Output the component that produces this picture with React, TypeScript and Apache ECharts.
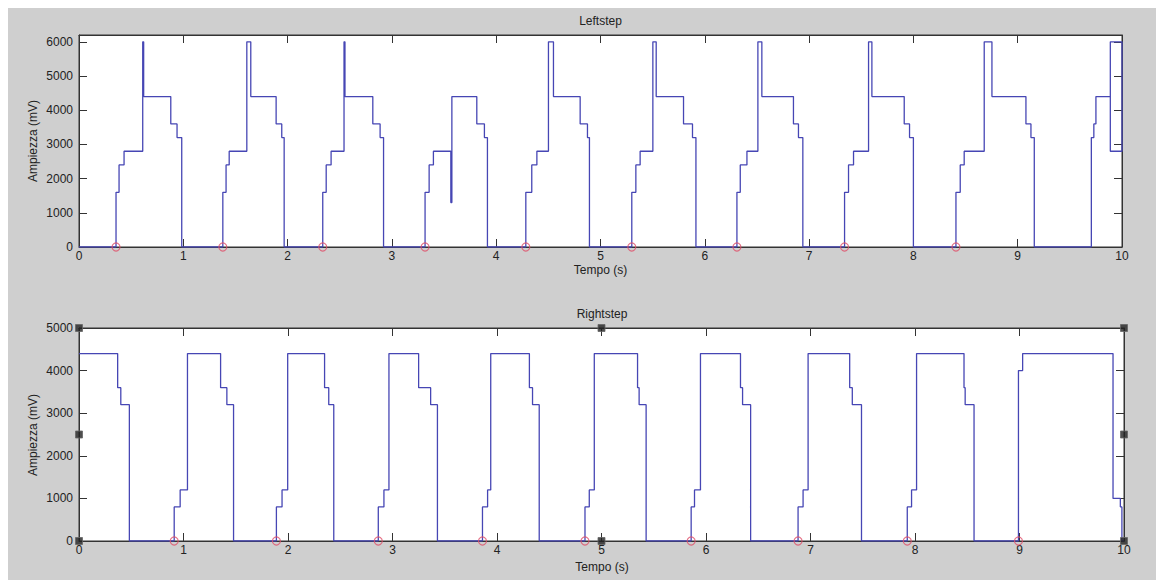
import React, { useEffect, useRef } from "react";
import * as echarts from "echarts";

// ---- Leftstep: transition times (s) and the level (mV) reached at each ----
const LEFT_START = 0;
const LEFT_TIMES = [
  0.355, 0.384, 0.432, 0.611, 0.62, 0.88, 0.94, 0.985,
  1.379, 1.41, 1.44, 1.609, 1.647, 1.89, 1.944, 1.967,
  2.337, 2.37, 2.417, 2.541, 2.55, 2.817, 2.887, 2.92,
  3.318, 3.357, 3.398, 3.565, 3.575, 3.814, 3.887, 3.916,
  4.284, 4.341, 4.39, 4.501, 4.549, 4.805, 4.875, 4.894,
  5.3, 5.339, 5.38, 5.502, 5.534, 5.796, 5.882, 5.915,
  6.308, 6.34, 6.404, 6.509, 6.547, 6.85, 6.898, 6.94,
  7.34, 7.378, 7.426, 7.57, 7.602, 7.912, 7.963, 8.0,
  8.408, 8.449, 8.487, 8.679, 8.753, 9.079, 9.127, 9.159,
  9.706, 9.73, 9.75, 9.888, 10, 9.888, 9.888,
];
const LEFT_LEVELS = [
  1600, 2400, 2800, 6000, 4400, 3600, 3200, 0,
  1600, 2400, 2800, 6000, 4400, 3600, 3200, 0,
  1600, 2400, 2800, 6000, 4400, 3600, 3200, 0,
  1600, 2400, 2800, 1300, 4400, 3600, 3200, 0,
  1600, 2400, 2800, 6000, 4400, 3600, 3200, 0,
  1600, 2400, 2800, 6000, 4400, 3600, 3200, 0,
  1600, 2400, 2800, 6000, 4400, 3600, 3200, 0,
  1600, 2400, 2800, 6000, 4400, 3600, 3200, 0,
  1600, 2400, 2800, 6000, 4400, 3600, 3200, 0,
  3200, 3600, 4400, 6000, 2800, 2800, 4400,
];
const LEFT_ONSETS = [0.355, 1.379, 2.337, 3.318, 4.284, 5.3, 6.308, 7.34, 8.408];

// ---- Rightstep ----
const RIGHT_START = 4400;
const RIGHT_TIMES = [
  0.37, 0.4, 0.482,
  0.911, 0.968, 1.038, 1.355, 1.415, 1.479,
  1.889, 1.943, 1.997, 2.35, 2.39, 2.438,
  2.864, 2.918, 2.966, 3.25, 3.365, 3.43,
  3.861, 3.91, 3.94, 4.31, 4.34, 4.404,
  4.842, 4.883, 4.931, 5.345, 5.36, 5.427,
  5.858, 5.89, 5.947, 6.33, 6.35, 6.427,
  6.881, 6.929, 6.977, 7.375, 7.4, 7.488,
  7.926, 7.967, 8.015, 8.469, 8.48, 8.565,
  8.99, 9.03, 9.895, 9.965, 9.98,
];
const RIGHT_LEVELS = [
  3600, 3200, 0,
  800, 1200, 4400, 3600, 3200, 0,
  800, 1200, 4400, 3600, 3200, 0,
  800, 1200, 4400, 3600, 3200, 0,
  800, 1200, 4400, 3600, 3200, 0,
  800, 1200, 4400, 3600, 3200, 0,
  800, 1200, 4400, 3600, 3200, 0,
  800, 1200, 4400, 3600, 3200, 0,
  800, 1200, 4400, 3600, 3200, 0,
  4000, 4400, 1000, 800, 0,
];
const RIGHT_ONSETS = [0.911, 1.889, 2.864, 3.861, 4.842, 5.858, 6.881, 7.926, 8.99];

// ---- axes ----
const X_TICKS = [0, 1, 2, 3, 4, 5, 6, 7, 8, 9, 10];
const LEFT_Y_MAX = 6200;
const RIGHT_Y_MAX = 5000;
const HANDLE_X = [0, 5, 10];
const HANDLE_Y = [0, 2500, 5000];

function steps(start: number, times: number[], levels: number[], extend: boolean) {
  const pts: number[][] = [[0, start]];
  let prev = start;
  for (let i = 0; i < times.length; i++) {
    pts.push([times[i], prev]);
    pts.push([times[i], levels[i]]);
    prev = levels[i];
  }
  if (extend) pts.push([X_TICKS[X_TICKS.length - 1], prev]);
  return pts;
}

const LINE = "#4646b4";
const AXIS = "#333";
const FONT = "'Liberation Sans', Arial, sans-serif";
const TXT = "#222";
const FS = 12;

function xAx(grid: number, pos: "bottom" | "top") {
  return {
    type: "value",
    gridIndex: grid,
    position: pos,
    min: X_TICKS[0],
    max: X_TICKS[X_TICKS.length - 1],
    interval: 1,
    axisLine: { show: true, onZero: false, lineStyle: { color: AXIS, width: 1 } },
    axisTick: { show: true, inside: true, length: 8, lineStyle: { color: AXIS } },
    axisLabel: {
      show: pos === "bottom",
      margin: 3,
      fontSize: FS,
      color: TXT,
      fontFamily: FONT,
      formatter: (v: number) => String(v),
    },
    splitLine: { show: false },
  };
}

function yAx(grid: number, pos: "left" | "right", max: number) {
  return {
    type: "value",
    gridIndex: grid,
    position: pos,
    min: 0,
    max,
    interval: 1000,
    axisLine: { show: true, onZero: false, lineStyle: { color: AXIS, width: 1 } },
    axisTick: { show: true, inside: true, length: 8, lineStyle: { color: AXIS } },
    axisLabel: {
      show: pos === "left",
      margin: 6,
      fontSize: FS,
      color: TXT,
      fontFamily: FONT,
      showMaxLabel: max % 1000 === 0,
      formatter: (v: number) => String(v),
    },
    splitLine: { show: false },
  };
}

export default function App() {
  const ref = useRef<HTMLDivElement>(null);
  useEffect(() => {
    if (!ref.current) return;
    const chart = echarts.init(ref.current, null, { renderer: "svg" });
    const txt = (text: string, x: number, y: number, rot = 0) => ({
      type: "text",
      x,
      y,
      rotation: rot,
      style: {
        text,
        fill: TXT,
        font: `${FS}px ${FONT}`,
        textAlign: "center",
        textVerticalAlign: "middle",
      },
    });
    chart.setOption({
      animation: false,
      backgroundColor: "#cfcfcf",
      grid: [
        { left: 71, top: 27, width: 1043, height: 212, show: true, backgroundColor: "#fff", borderColor: AXIS, borderWidth: 1 },
        { left: 71, top: 320, width: 1045, height: 213, show: true, backgroundColor: "#fff", borderColor: AXIS, borderWidth: 1 },
      ],
      xAxis: [xAx(0, "bottom"), xAx(0, "top"), xAx(1, "bottom"), xAx(1, "top")],
      yAxis: [
        yAx(0, "left", LEFT_Y_MAX),
        yAx(0, "right", LEFT_Y_MAX),
        yAx(1, "left", RIGHT_Y_MAX),
        yAx(1, "right", RIGHT_Y_MAX),
      ],
      graphic: [
        txt("Leftstep", 592.5, 13),
        txt("Tempo (s)", 592.5, 262),
        txt("Ampiezza (mV)", 25, 133, Math.PI / 2),
        txt("Rightstep", 594, 306),
        txt("Tempo (s)", 594, 559),
        txt("Ampiezza (mV)", 25, 427, Math.PI / 2),
      ],
      series: [
        {
          type: "line",
          xAxisIndex: 0,
          yAxisIndex: 0,
          data: steps(LEFT_START, LEFT_TIMES, LEFT_LEVELS, false),
          showSymbol: false,
          lineStyle: { color: LINE, width: 1.3 },
        },
        {
          type: "scatter",
          xAxisIndex: 0,
          yAxisIndex: 0,
          data: LEFT_ONSETS.map((t) => [t, 0]),
          symbol: "circle",
          symbolSize: 8,
          itemStyle: { color: "rgba(0,0,0,0)", borderColor: "#e0506a", borderWidth: 1.2 },
          z: 5,
        },
        {
          type: "line",
          xAxisIndex: 2,
          yAxisIndex: 2,
          data: steps(RIGHT_START, RIGHT_TIMES, RIGHT_LEVELS, true),
          showSymbol: false,
          lineStyle: { color: LINE, width: 1.3 },
        },
        {
          type: "scatter",
          xAxisIndex: 2,
          yAxisIndex: 2,
          data: RIGHT_ONSETS.map((t) => [t, 0]),
          symbol: "circle",
          symbolSize: 8,
          itemStyle: { color: "rgba(0,0,0,0)", borderColor: "#e0506a", borderWidth: 1.2 },
          z: 5,
        },
        {
          type: "scatter",
          xAxisIndex: 2,
          yAxisIndex: 2,
          clip: false,
          data: HANDLE_X.flatMap((x) =>
            HANDLE_Y.filter((y) => !(x === HANDLE_X[1] && y === HANDLE_Y[1])).map((y) => [x, y])
          ),
          symbol: "rect",
          symbolSize: 7,
          itemStyle: { color: "#222", borderColor: "#666", borderWidth: 1 },
          z: 6,
        },
      ],
    });
    return () => chart.dispose();
  }, []);
  return <div ref={ref} style={{ width: 1156, height: 572, background: "#cfcfcf" }} />;
}
